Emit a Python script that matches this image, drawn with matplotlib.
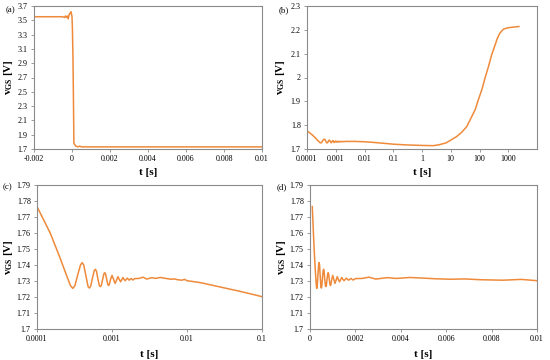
import numpy as np
import matplotlib
matplotlib.use("Agg")
import matplotlib.pyplot as plt
from matplotlib.ticker import NullLocator

plt.rcParams['font.family'] = ['Liberation Serif', 'DejaVu Serif']
plt.rcParams['mathtext.fontset'] = 'custom'
plt.rcParams['mathtext.rm'] = 'Liberation Serif'
plt.rcParams['mathtext.bf'] = 'Liberation Serif:bold'

#(a) 全体の波形
t_a = [-0.002, -0.0005, -0.0004, -0.00035, -0.0003, -0.00025, -0.0002, -0.00015,
       -0.0001, -0.00005, 0.0, 0.00002, 0.00005, 0.00008, 0.0001, 0.00015, 0.0002,
       0.0003, 0.0004, 0.0005, 0.001, 0.01]
v_a = [3.55, 3.55, 3.54, 3.56, 3.54, 3.56, 3.52, 3.58,
       3.60, 3.62, 3.55, 3.40, 3.00, 2.30, 1.78, 1.76, 1.74,
       1.73, 1.74, 1.73, 1.73, 1.73]

#(c)(d) 振動部分
t_osc = [1.0e-4, 1.5e-4, 2.0e-4, 2.5e-4, 2.8e-4, 3.0e-4, 3.2e-4, 3.5e-4, 3.8e-4, 4.0e-4,
         4.2e-4, 4.5e-4, 4.8e-4, 5.0e-4, 5.2e-4, 5.5e-4, 5.8e-4, 6.0e-4, 6.2e-4, 6.5e-4,
         6.8e-4, 7.0e-4, 7.2e-4, 7.5e-4, 7.8e-4, 8.0e-4, 8.2e-4, 8.5e-4, 8.8e-4, 9.0e-4,
         9.2e-4, 9.5e-4, 1.0e-3, 1.05e-3, 1.1e-3, 1.15e-3, 1.2e-3, 1.25e-3, 1.3e-3, 1.35e-3,
         1.4e-3, 1.45e-3, 1.5e-3, 1.55e-3, 1.6e-3, 1.7e-3, 1.8e-3, 1.9e-3, 2.0e-3, 2.3e-3,
         2.6e-3, 2.9e-3, 3.4e-3, 3.8e-3, 4.4e-3, 5.0e-3, 5.5e-3, 6.2e-3, 6.8e-3, 7.5e-3,
         8.5e-3, 9.3e-3, 1.0e-2, 0.015, 0.024, 0.035, 0.048, 0.07, 0.1]
v_osc = [1.7765, 1.7600, 1.7452, 1.7330, 1.7270, 1.7254, 1.7270, 1.7340, 1.7400, 1.7415,
         1.7400, 1.7330, 1.7265, 1.7256, 1.7268, 1.7320, 1.7365, 1.7373, 1.7362, 1.7310,
         1.7270, 1.7265, 1.7272, 1.7310, 1.7345, 1.7352, 1.7345, 1.7310, 1.7278, 1.7272,
         1.7278, 1.7305, 1.7335, 1.7310, 1.7285, 1.7305, 1.7327, 1.7310, 1.7295, 1.7308,
         1.7322, 1.7310, 1.7302, 1.7310, 1.7318, 1.7305, 1.7316, 1.7306, 1.7315, 1.7316,
         1.7324, 1.7312, 1.7321, 1.7316, 1.7322, 1.7318, 1.7314, 1.7311, 1.7313, 1.7308,
         1.7305, 1.7310, 1.7302, 1.7290, 1.7269, 1.7252, 1.7238, 1.7220, 1.7202]

#(b) 長時間の回復
t_rec = [0.3, 1.0, 2.5, 4.0, 7.0, 16.0, 24.0, 36.0, 47.0, 70.0, 91.0, 120.0, 155.0,
         205.0, 265.0, 350.0, 420.0, 510.0, 680.0, 1000.0, 2350.0]
v_rec = [1.717, 1.715, 1.714, 1.718, 1.726, 1.752, 1.770, 1.794, 1.822, 1.864, 1.906, 1.948, 1.997,
         2.046, 2.095, 2.137, 2.165, 2.186, 2.203, 2.209, 2.214]

ticks_a_x = [-0.002, 0, 0.002, 0.004, 0.006, 0.008, 0.01]
lab_a_x = ["-0.002", "0", "0.002", "0.004", "0.006", "0.008", "0.01"]
ticks_a_y = [1.7, 1.9, 2.1, 2.3, 2.5, 2.7, 2.9, 3.1, 3.3, 3.5, 3.7]
lab_a_y = ["1.7", "1.9", "2.1", "2.3", "2.5", "2.7", "2.9", "3.1", "3.3", "3.5", "3.7"]
ticks_b_x = [1e-4, 1e-3, 1e-2, 1e-1, 1, 10, 100, 1000]
lab_b_x = ["0.0001", "0.001", "0.01", "0.1", "1", "10", "100", "1000"]
ticks_b_y = [1.7, 1.8, 1.9, 2.0, 2.1, 2.2, 2.3]
lab_b_y = ["1.7", "1.8", "1.9", "2", "2.1", "2.2", "2.3"]
ticks_c_x = [1e-4, 1e-3, 1e-2, 1e-1]
lab_c_x = ["0.0001", "0.001", "0.01", "0.1"]
ticks_cd_y = [1.7, 1.71, 1.72, 1.73, 1.74, 1.75, 1.76, 1.77, 1.78, 1.79]
lab_cd_y = ["1.7", "1.71", "1.72", "1.73", "1.74", "1.75", "1.76", "1.77", "1.78", "1.79"]
ticks_d_x = [0, 0.002, 0.004, 0.006, 0.008, 0.01]
lab_d_x = ["0", "0.002", "0.004", "0.006", "0.008", "0.01"]

col = "#EE8A3A"
spc = "#8a8a8a"
W, H = 550.0, 360.0

fig = plt.figure(figsize=(5.5, 3.6), dpi=100)

def make_ax(l, r, t, b):
    ax = fig.add_axes([l / W, (H - b) / H, (r - l) / W, (b - t) / H])
    for s in ax.spines.values():
        s.set_color(spc)
        s.set_linewidth(0.8)
    ax.tick_params(direction="out", length=2.5, width=0.6, color=spc,
                   labelsize=5.8, pad=2)
    return ax

def style(ax, xt, xl, yt, yl, lab, lab_px, xlab_y, ylab_x):
    ax.set_xticks(xt)
    ax.set_xticklabels(xl)
    ax.set_yticks(yt)
    ax.set_yticklabels(yl)
    ax.xaxis.set_minor_locator(NullLocator())
    ax.set_xlabel("t [s]", fontsize=8, fontweight="bold")
    ax.set_ylabel(r"$\mathbf{v}_{\mathbf{GS}}$ [V]", fontsize=8, fontweight="bold")
    ax.xaxis.set_label_coords(0.5, xlab_y)
    ax.yaxis.set_label_coords(ylab_x, 0.5)
    fig.text(lab_px[0] / W, 1 - lab_px[1] / H, lab, fontsize=6.3, va="center", ha="left")

ax_a = make_ax(34, 262, 6, 149)
ax_a.plot(t_a, v_a, color=col, lw=1.1)
ax_a.set_xlim(-0.002, 0.01)
ax_a.set_ylim(1.7, 3.7)
style(ax_a, ticks_a_x, lab_a_x, ticks_a_y, lab_a_y, "(a)", (6, 10), -0.13, -0.085)

ax_b = make_ax(307, 537, 6, 149)
ax_b.plot(t_osc + t_rec, v_osc + v_rec, color=col, lw=1.1)
ax_b.set_xscale("log")
ax_b.set_xlim(1e-4, 1e4)
ax_b.set_ylim(1.7, 2.3)
style(ax_b, ticks_b_x, lab_b_x, ticks_b_y, lab_b_y, "(b)", (279, 10), -0.13, -0.085)

ax_c = make_ax(37, 262, 185, 329)
ax_c.plot(t_osc, v_osc, color=col, lw=1.1)
ax_c.set_xscale("log")
ax_c.set_xlim(1e-4, 0.1)
ax_c.set_ylim(1.7, 1.79)
style(ax_c, ticks_c_x, lab_c_x, ticks_cd_y, lab_cd_y, "(c)", (3, 187), -0.145, -0.098)

ax_d = make_ax(310, 537, 185, 329)
ax_d.plot(t_osc, v_osc, color=col, lw=1.1)
ax_d.set_xlim(0, 0.01)
ax_d.set_ylim(1.7, 1.79)
style(ax_d, ticks_d_x, lab_d_x, ticks_cd_y, lab_cd_y, "(d)", (277, 187), -0.145, -0.098)

fig.savefig("out.png", dpi=100)
